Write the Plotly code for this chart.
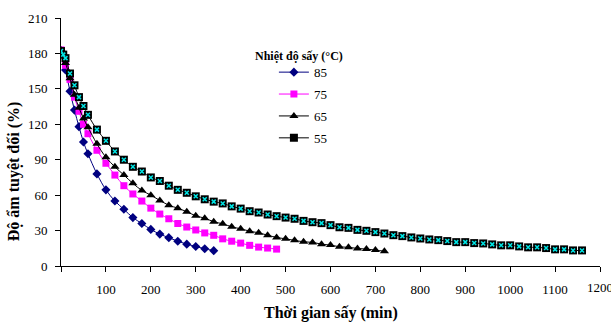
import plotly.graph_objects as go

# Drying time (min) and moisture content (%) per drying temperature
t85 = [0, 10, 20, 30, 40, 50, 60] + list(range(80, 341, 20))
y85 = [182, 166, 148, 132, 118, 105, 95, 78, 64.5, 55, 48, 41, 36, 31, 27, 24, 21, 18.5, 16.5, 14.6, 13]

t75 = [0, 10, 20, 30, 40, 50, 60] + list(range(80, 481, 20))
y75 = [183, 170, 158, 143, 131, 120, 112, 98, 87, 77, 68, 61, 55, 49, 44, 40, 36, 33, 30.5, 28, 26,
       23, 21, 19.4, 17.5, 16, 15.2, 14.3]

t65 = [0, 10, 20, 30, 40, 50, 60] + list(range(80, 721, 20))
y65 = [183, 172, 159, 145, 134, 125, 117.5, 103.5, 92, 84, 77, 70, 64, 60, 55.5, 51.5, 49, 46, 42.5,
       40.5, 37.5, 35.7, 33.2, 31.5, 29.5, 28.1, 26.1, 24.2, 23, 21.7, 20.5, 20, 18.5, 17.7, 16.3,
       15.8, 14.9, 14.3, 13.5, 12.5]

t55 = [0, 5, 10, 20, 30, 40, 50, 60] + list(range(80, 1161, 20))
y55 = [182, 179, 176, 163, 153, 143, 135.5, 128, 115.5, 106, 97, 90, 84, 80, 75, 72, 68, 64.5, 62, 59,
       56.5, 54.5, 53, 50.5, 48.6, 46.4, 45.3, 43.6, 42.2, 41, 40, 38.2, 37.1, 36.3, 34.6, 32.8, 32.3,
       30.6, 29.8, 28.7, 27.5, 26.1, 25.3, 24.2, 23.3, 22.5, 21.9, 21.1, 20.2, 20.2, 19.4, 19.1, 18.3,
       17.5, 17.5, 16.6, 15.8, 15.8, 15.2, 14.1, 14.1, 13.2, 13.2]

x_ticks = list(range(0, 1201, 100))
x_ticktext = [""] + [str(v) for v in x_ticks[1:-1]] + [""]
x_last_label = str(x_ticks[-1])
y_ticks = list(range(0, 211, 30))

FONT = "Liberation Serif"

fig = go.Figure()
fig.add_trace(go.Scatter(x=t85, y=y85, name="85", mode="lines+markers", line_shape="spline",
                         line=dict(color="#000080", width=1),
                         marker=dict(symbol="diamond", size=7, color="#000080"),
                         legendgroup="a"))
fig.add_trace(go.Scatter(x=t75, y=y75, name="75", mode="lines+markers", line_shape="spline",
                         line=dict(color="#FF00FF", width=1),
                         marker=dict(symbol="square", size=7, color="#FF00FF"),
                         legendgroup="b"))
fig.add_trace(go.Scatter(x=t65, y=y65, name="65", mode="lines+markers", line_shape="spline",
                         line=dict(color="#000000", width=1),
                         marker=dict(symbol="triangle-up", size=8, color="#000000"),
                         legendgroup="c"))
fig.add_trace(go.Scatter(x=t55, y=y55, name="55", mode="lines+markers", line_shape="spline",
                         line=dict(color="#000000", width=1),
                         marker=dict(symbol="square", size=8, color="#000000"),
                         legendgroup="d"))
fig.add_trace(go.Scatter(x=t55, y=y55, name="55", mode="markers", showlegend=False,
                         marker=dict(symbol="x-thin", size=4, color="#00E5E5",
                                     line=dict(color="#00E5E5", width=1.5)),
                         legendgroup="d"))

fig.update_layout(
    width=611, height=322,
    margin=dict(l=61, r=11, t=17.5, b=56),
    paper_bgcolor="white", plot_bgcolor="white",
    font=dict(family=FONT, size=13, color="#000000"),
    showlegend=True,
    legend=dict(x=0.395, y=0.842, xanchor="left", yanchor="top",
                font=dict(family=FONT, size=13), tracegroupgap=2,
                bgcolor="rgba(0,0,0,0)", borderwidth=0),
    xaxis=dict(range=[0, 1200], tickvals=x_ticks, ticktext=x_ticktext,
               showgrid=False, zeroline=False, showline=True, linecolor="#000000", linewidth=1,
               ticks="outside", ticklen=5, tickcolor="#000000", ticklabelstandoff=6,
               ticklabeloverflow="allow",
               tickfont=dict(family=FONT, size=13)),
    yaxis=dict(range=[0, 210], tickvals=y_ticks,
               showgrid=False, zeroline=False, showline=True, linecolor="#000000", linewidth=1,
               ticks="outside", ticklen=5, tickcolor="#000000", ticklabelstandoff=5,
               tickfont=dict(family=FONT, size=13)),
    annotations=[
        dict(text=x_last_label, xref="x", yref="paper", x=x_ticks[-1], y=-22 / 248.5,
             xanchor="center", yanchor="middle", showarrow=False,
             font=dict(family=FONT, size=13)),
        dict(text="<b>Thời gian sấy (min)</b>", xref="paper", yref="paper",
             x=0.5, y=-47 / 248.5, xanchor="center", yanchor="middle", showarrow=False,
             font=dict(family=FONT, size=16)),
        dict(text="<b>Độ ẩm tuyệt đối (%)</b>", xref="paper", yref="paper",
             x=-47 / 539, y=(266 - 171) / 248.5, xanchor="center", yanchor="middle",
             textangle=-90, showarrow=False, font=dict(family=FONT, size=16)),
        dict(text="<b>Nhiệt độ sấy (°C)</b>", xref="paper", yref="paper",
             x=(253 - 61) / 539, y=(266 - 56) / 248.5, xanchor="left", yanchor="middle",
             showarrow=False, font=dict(family=FONT, size=12)),
    ],
)

fig.write_html("out.html")
